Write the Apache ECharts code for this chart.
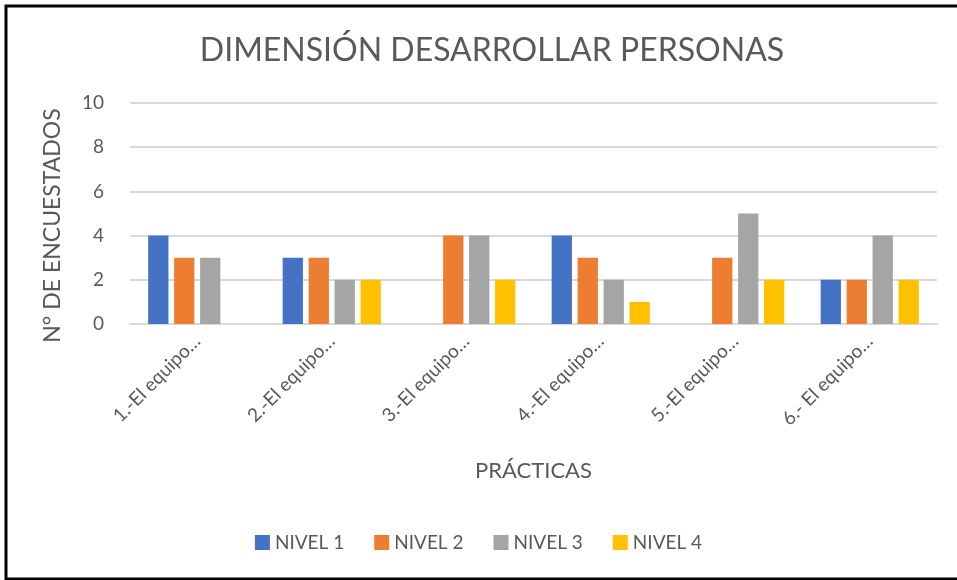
<!DOCTYPE html>
<html>
<head>
<meta charset="utf-8">
<script src="https://cdn.jsdelivr.net/npm/echarts@6/dist/echarts.min.js"></script>
<style>
  * { margin: 0; padding: 0; }
  #container { width: 957px; height: 580px; background: #fff; }
</style>
</head>
<body>
<div id="container"></div>
<script>
var categories = ['1.-El equipo…', '2.-El equipo…', '3.-El equipo…', '4.-El equipo…', '5.-El equipo…', '6.- El equipo…'];
var seriesNames = ['NIVEL 1', 'NIVEL 2', 'NIVEL 3', 'NIVEL 4'];
var nivel1 = [4, 3, 0, 4, 0, 2];
var nivel2 = [3, 3, 4, 3, 3, 2];
var nivel3 = [3, 2, 4, 2, 5, 4];
var nivel4 = [0, 2, 2, 1, 2, 2];
var yTicks = [0, 2, 4, 6, 8, 10];

var colors = ['#4472C4', '#ED7D31', '#A5A5A5', '#FFC000'];
var values = [nivel1, nivel2, nivel3, nivel4];
var font = 'Lato, "Open Sans", sans-serif';

var chart = echarts.init(document.getElementById('container'));

var series = [];
for (var i = 0; i < 4; i++) {
    series.push({
        name: seriesNames[i],
        type: 'bar',
        barGap: '28%',
        barCategoryGap: '27%',
        // zero values are not drawn
        data: values[i].map(function (v) { return v === 0 ? null : v; }),
        itemStyle: { color: colors[i] }
    });
}

chart.setOption({
    animation: false,
    color: colors,
    title: {
        text: 'DIMENSIÓN DESARROLLAR PERSONAS',
        left: 487,
        top: 30,
        textAlign: 'center',
        textStyle: { fontFamily: font, fontSize: 32, fontWeight: 'normal', color: '#595959' }
    },
    legend: {
        bottom: 23,
        left: 'center',
        itemWidth: 15,
        itemHeight: 15,
        itemGap: 30,
        icon: 'rect',
        textStyle: { fontFamily: font, fontSize: 19, color: '#595959' },
        data: seriesNames
    },
    grid: { left: 130, right: 20, top: 103, bottom: 256 },
    xAxis: {
        type: 'category',
        data: categories,
        name: 'PRÁCTICAS',
        nameLocation: 'middle',
        nameGap: 136,
        nameTextStyle: { fontFamily: font, fontSize: 22, color: '#595959' },
        axisLine: { lineStyle: { color: '#D9D9D9', width: 2 } },
        axisTick: { show: false },
        axisLabel: { rotate: 45, fontFamily: font, fontSize: 19, color: '#595959', margin: 14, interval: 0 }
    },
    yAxis: {
        type: 'value',
        min: yTicks[0],
        max: yTicks[yTicks.length - 1],
        interval: 2,
        name: 'N° DE ENCUESTADOS',
        nameLocation: 'middle',
        nameGap: 66,
        nameTextStyle: { fontFamily: font, fontSize: 23, color: '#595959', padding: [0, 24, 0, 0] },
        axisLine: { show: false },
        axisTick: { show: false },
        axisLabel: { fontFamily: font, fontSize: 19, color: '#595959', margin: 26 },
        splitLine: { lineStyle: { color: '#D9D9D9', width: 2 } }
    },
    graphic: [{
        type: 'rect',
        shape: { x: 6, y: 6, width: 970, height: 573 },
        style: { fill: null, stroke: '#000', lineWidth: 3 },
        silent: true
    }],
    series: series
});
</script>
</body>
</html>
